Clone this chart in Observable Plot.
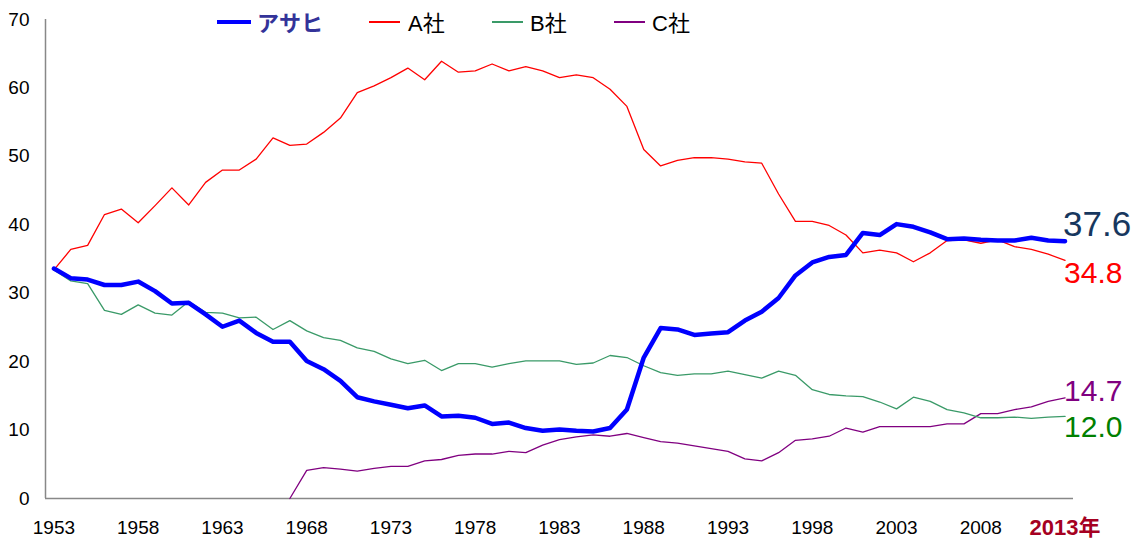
<!DOCTYPE html>
<html><head><meta charset="utf-8">
<script src="https://cdn.jsdelivr.net/npm/d3@7"></script>
<script src="https://cdn.jsdelivr.net/npm/@observablehq/plot@0.6"></script>
<style>
body{margin:0;background:#fff;font-family:"Liberation Sans",Arial,"Noto Sans CJK JP",sans-serif;}
#wrap{position:relative;width:1139px;height:543px;overflow:hidden;}
</style>
</head><body>
<div id="wrap"><div id="chart"></div><div id="legend"></div></div>
<script>
const startYear = 1953, endYear = 2013;
const years = d3.range(startYear, endYear + 1);
const seriesNames = ["アサヒ", "A社", "B社", "C社"];
const asahi = [33.6,32.2,32.0,31.2,31.2,31.7,30.3,28.5,28.6,26.9,
  25.1,26.0,24.2,22.9,22.9,20.1,18.9,17.2,14.8,14.2,
  13.7,13.2,13.6,12.0,12.1,11.8,10.9,11.1,10.3,9.9,
  10.1,9.9,9.8,10.3,13.0,20.6,24.9,24.7,23.9,24.1,
  24.3,26.0,27.3,29.3,32.6,34.5,35.3,35.6,38.8,38.5,
  40.1,39.7,38.9,37.9,38.0,37.8,37.7,37.7,38.1,37.7,
  37.6];
const companyA = [33.4,36.4,37.0,41.5,42.3,40.3,42.8,45.4,42.9,46.2,
  48.0,48.0,49.6,52.7,51.6,51.8,53.5,55.6,59.3,60.3,
  61.5,62.9,61.2,63.9,62.3,62.5,63.5,62.5,63.1,62.5,
  61.5,61.9,61.5,59.8,57.3,51.0,48.6,49.4,49.8,49.8,
  49.6,49.2,49.0,44.5,40.5,40.5,39.9,38.5,35.9,36.3,
  35.9,34.6,35.9,37.7,37.8,37.3,37.8,36.8,36.4,35.7,
  34.8];
const companyB = [33.4,31.8,31.4,27.5,26.9,28.3,27.1,26.8,28.8,27.2,
  27.1,26.4,26.5,24.7,26.0,24.5,23.5,23.1,22.0,21.5,
  20.4,19.7,20.2,18.7,19.7,19.7,19.2,19.7,20.1,20.1,
  20.1,19.6,19.8,20.9,20.6,19.4,18.4,18.0,18.2,18.2,
  18.6,18.1,17.6,18.6,18.0,15.9,15.2,15.0,14.9,14.1,
  13.1,14.8,14.2,13.0,12.5,11.8,11.8,11.9,11.7,11.9,
  12.0];
const companyC = [null,null,null,null,null,null,null,null,null,null,
  null,null,null,null,0,4.1,4.5,4.3,4.0,4.4,
  4.7,4.7,5.5,5.7,6.3,6.5,6.5,6.9,6.7,7.8,
  8.6,9.0,9.3,9.1,9.5,8.9,8.3,8.1,7.7,7.3,
  6.9,5.8,5.5,6.7,8.5,8.7,9.1,10.3,9.7,10.5,
  10.5,10.5,10.5,10.9,10.9,12.4,12.4,13.0,13.4,14.2,
  14.7];
const yTicks = [0,10,20,30,40,50,60,70];
const xTicks = [1953,1958,1963,1968,1973,1978,1983,1988,1993,1998,2003,2008];
const lastTick = 2013;

const lineColors = ["#0000ff", "#ff0000", "#3a9a68", "#800080"];
const lineWidths = [4.5, 1.3, 1.3, 1.3];
const labelColors = ["#17375e", "#ff0000", "#008000", "#800080"];
const allValues = [asahi, companyA, companyB, companyC];

const rows = [];
allValues.forEach((vals, i) => vals.forEach((v, j) => {
  if (v != null) rows.push({series: seriesNames[i], year: years[j], value: v});
}));

const ends = allValues.map((vals, i) => ({series: seriesNames[i], year: years[years.length-1], value: vals[vals.length-1]}));
const labelOffsets = {"アサヒ": [-2, -16, 35], "A社": [-1, 13, 30], "B社": [-1, 11, 30], "C社": [-1, -7, 30]};

const font = '"Liberation Sans", Arial, "Noto Sans CJK JP", sans-serif';
const marks = [
  Plot.ruleY([0], {stroke: "#888", strokeWidth: 1.5}),
  Plot.ruleX([startYear - 0.5], {stroke: "#888", strokeWidth: 1.5}),
  Plot.axisY({ticks: yTicks, tickSize: 0, tickPadding: 16, fontSize: 19, fill: "#000", label: null}),
  Plot.axisX({ticks: xTicks, tickSize: 0, tickPadding: 22, fontSize: 19, fill: "#000", label: null, tickFormat: d => String(d)}),
  Plot.axisX({ticks: [lastTick], tickSize: 0, tickPadding: 21, fontSize: 22, fontWeight: "bold", fill: "#a50021", label: null, tickFormat: d => d + "年"})
];
seriesNames.slice().reverse().forEach((name) => {
  const i = seriesNames.indexOf(name);
  marks.push(Plot.line(rows.filter(r => r.series === name), {x: "year", y: "value", stroke: lineColors[i], strokeWidth: lineWidths[i], strokeLinejoin: "round"}));
});
ends.forEach((d, i) => {
  const [dx, dy, fs] = labelOffsets[d.series];
  marks.push(Plot.text([d], {x: "year", y: "value", text: r => r.value.toFixed(1), textAnchor: "start", dx, dy, fontSize: fs, fill: labelColors[i]}));
});

const chart = Plot.plot({
  width: 1139, height: 543,
  marginLeft: 45, marginRight: 66, marginTop: 19, marginBottom: 45,
  x: {domain: [startYear - 0.5, endYear + 0.5], axis: null},
  y: {domain: [0, 70], axis: null},
  style: {fontFamily: font, background: "#fff", color: "#000", overflow: "visible"},
  marks
});
document.getElementById("chart").appendChild(chart);

const legendPos = [{x: 217, tx: 257, w: 34}, {x: 369, tx: 408, w: 31}, {x: 492, tx: 530, w: 31}, {x: 614, tx: 652, w: 31}];
const legend = document.getElementById("legend");
seriesNames.forEach((name, i) => {
  const sw = document.createElement("div");
  sw.style.cssText = `position:absolute;left:${legendPos[i].x}px;top:${22 - lineWidths[i]/2}px;width:${legendPos[i].w}px;height:${Math.max(lineWidths[i],1.3)}px;background:${lineColors[i]};`;
  legend.appendChild(sw);
  const t = document.createElement("div");
  t.textContent = name;
  t.style.cssText = `position:absolute;left:${legendPos[i].tx}px;top:12px;font-size:22px;line-height:24px;white-space:nowrap;${i===0?"font-weight:bold;color:#333399;":"color:#000;"}`;
  legend.appendChild(t);
});
</script>
</body></html>
